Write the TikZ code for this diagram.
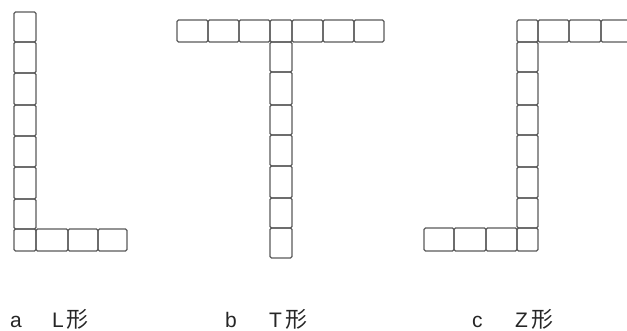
\documentclass[tikz,border=0pt]{standalone}
\usepackage{fontspec}
\setmainfont{Liberation Sans}
\newfontfamily\cjk{Noto Sans CJK SC}
\newcommand{\xing}{\hspace{3pt}{\cjk\fontsize{22}{22}\selectfont 形}}
\begin{document}
\begin{tikzpicture}[x=1pt,y=-1pt,
  cell/.style={draw=black!65, line width=1.3pt, rounded corners=1.5pt},
  lab/.style={anchor=base west, inner sep=0pt, text=black!85, font=\fontsize{21}{21}\selectfont}]
\useasboundingbox (0,0) rectangle (627,330);
\clip (0,0) rectangle (627,330);
% L shape
\foreach \a/\b in {12/42,42/73,73/105,105/136,136/167,167/199,199/229,229/251}
  \draw[cell] (14,\a) rectangle (36,\b);
\foreach \a/\b in {36/68,68/98,98/127}
  \draw[cell] (\a,229) rectangle (\b,251);
% T shape
\foreach \a/\b in {177/208,208/239,239/270,270/292,292/323,323/354,354/384}
  \draw[cell] (\a,20) rectangle (\b,42);
\foreach \a/\b in {42/72,72/105,105/135,135/166,166/198,198/228,228/258}
  \draw[cell] (270,\a) rectangle (292,\b);
% Z shape
\foreach \a/\b in {517/538,538/569,569/601,601/633}
  \draw[cell] (\a,20) rectangle (\b,42);
\foreach \a/\b in {42/72,72/105,105/135,135/167,167/198,198/228,228/251}
  \draw[cell] (517,\a) rectangle (538,\b);
\foreach \a/\b in {424/454,454/486,486/517}
  \draw[cell] (\a,228) rectangle (\b,251);
% labels
\node[lab] (la) at (10,327) {a};
\node[lab] (lL) at (52,327) {L\xing};
\node[lab] (lb) at (225,327) {b};
\node[lab] (lT) at (269,327) {T\xing};
\node[lab] (lc) at (472,327) {c};
\node[lab] (lZ) at (515,327) {Z\xing};
\end{tikzpicture}
\end{document}
